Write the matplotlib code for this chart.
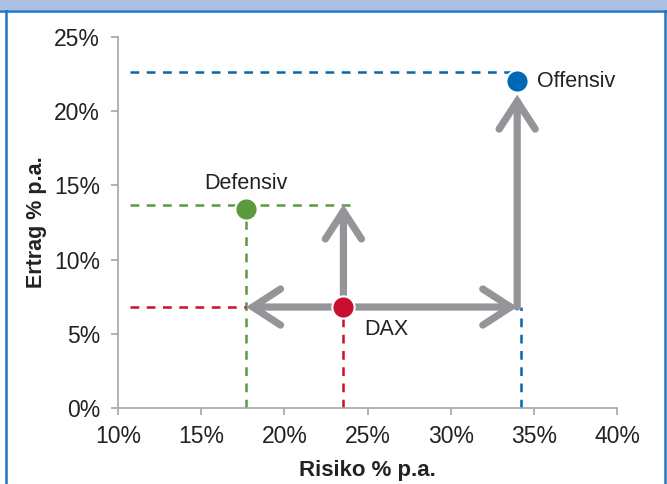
import matplotlib
matplotlib.use('Agg')
import matplotlib.pyplot as plt
from matplotlib.patches import FancyArrowPatch, Rectangle
from matplotlib.lines import Line2D
from matplotlib.ticker import FuncFormatter

# Risiko / Ertrag in % p.a.
names = ['Defensiv', 'DAX', 'Offensiv']
risk = [17.7, 23.5, 34.0]
ret = [13.4, 6.8, 22.0]
colors = ['#5B9A3F', '#C8102E', '#0068B4']

# guide lines (dashed)
guide_start = 10.7
green_h = 13.7
green_h_end = 24.1
blue_h = 22.6
blue_v = 34.2

grey = '#939598'
plt.rcParams['font.family'] = ['Liberation Sans', 'DejaVu Sans']

fig = plt.figure(figsize=(6.67, 4.84), dpi=100)
ax = fig.add_axes([0.177, 0.157, 0.748, 0.767])

ax.set_xlim(10, 40)
ax.set_ylim(0, 25)
ax.set_xticks([10, 15, 20, 25, 30, 35, 40])
ax.set_yticks([0, 5, 10, 15, 20, 25])
pct = FuncFormatter(lambda v, p: f"{v:.0f}%")
ax.xaxis.set_major_formatter(pct)
ax.yaxis.set_major_formatter(pct)
for s in ['top', 'right']:
    ax.spines[s].set_visible(False)
for s in ['left', 'bottom']:
    ax.spines[s].set_color('#A6A6A6')
    ax.spines[s].set_linewidth(1.2)
ax.tick_params(axis='both', colors='#A6A6A6', length=5, width=1.2,
               labelsize=16.5, labelcolor='#222222')
ax.tick_params(axis='x', pad=7)
ax.tick_params(axis='y', pad=8)
ax.set_xlabel('Risiko % p.a.', fontsize=16, fontweight='bold', color='#222222', labelpad=9)
ax.set_ylabel('Ertrag % p.a.', fontsize=15.5, fontweight='bold', color='#222222', labelpad=5)

dash = dict(lw=1.8, linestyles=(0, (3.5, 3)))
# defensiv (green)
ax.hlines(green_h, guide_start, green_h_end, colors=colors[0], **dash)
ax.vlines(risk[0], 0, ret[0], colors=colors[0], **dash)
# dax (red)
ax.hlines(ret[1], guide_start, risk[0], colors=colors[1], **dash)
ax.vlines(risk[1], 0, ret[1], colors=colors[1], **dash)
# offensiv (blue)
ax.hlines(blue_h, guide_start, risk[2], colors=colors[2], **dash)
ax.vlines(blue_v, 0, ret[1], colors=colors[2], **dash)

# grey arrows
def arrow(x0, y0, x1, y1):
    a = FancyArrowPatch((x0, y0), (x1, y1), arrowstyle='->,head_length=1.0,head_width=0.65',
                        mutation_scale=20, color=grey, lw=5.2, capstyle='round',
                        joinstyle='miter', shrinkA=0, shrinkB=0, zorder=3)
    ax.add_patch(a)

arrow(risk[1], ret[1], risk[0], ret[1])
arrow(risk[1], ret[1], blue_v - 0.2, ret[1])
arrow(risk[1] + 0.05, ret[1] + 0.8, risk[1] + 0.05, green_h)
arrow(blue_v - 0.2, ret[1], blue_v - 0.2, ret[2] - 0.9)

for x, y, c in zip(risk, ret, colors):
    ax.plot(x, y, 'o', ms=16, color=c, mec='white', mew=1.5, zorder=5)

ax.text(risk[0], ret[0] + 1.0, names[0], fontsize=15.5, color='#222222', ha='center', va='bottom')
ax.text(risk[1] + 1.3, ret[1] - 0.8, names[1], fontsize=15.5, color='#222222', ha='left', va='top')
ax.text(risk[2] + 1.2, ret[2], names[2], fontsize=15.5, color='#222222', ha='left', va='center')

# frame and header strip
fig.patches.append(Rectangle((0, 1 - 10 / 484), 1, 10 / 484, transform=fig.transFigure,
                             facecolor='#ABBFE3', edgecolor='none', zorder=0))
fig.lines.append(Line2D([0, 1], [1 - 11 / 484] * 2, transform=fig.transFigure, color='#1C75C8', lw=1.8))
fig.lines.append(Line2D([6 / 667] * 2, [0, 1 - 11 / 484], transform=fig.transFigure, color='#1C75C8', lw=1.8))
fig.lines.append(Line2D([665 / 667] * 2, [0, 1 - 11 / 484], transform=fig.transFigure, color='#1C75C8', lw=1.8))

fig.savefig('out.png', dpi=100)
